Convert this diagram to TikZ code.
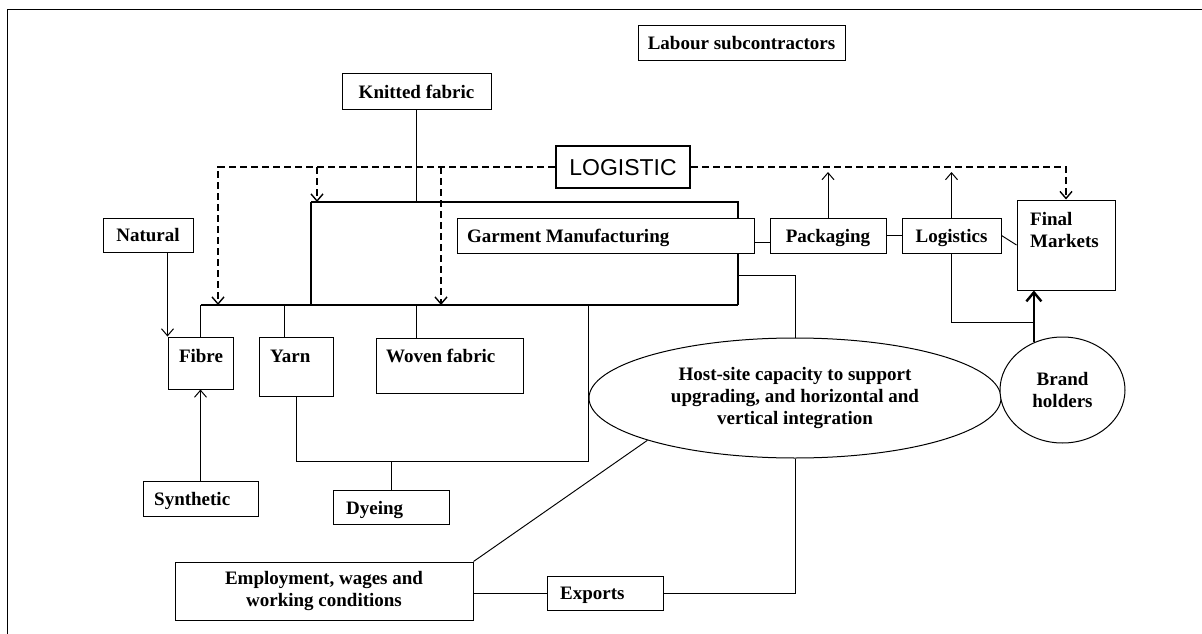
\documentclass[tikz,border=0pt]{standalone}
\usepackage{fontspec}
\setmainfont{Liberation Serif}
\newfontfamily\lsans{Liberation Sans}
\usetikzlibrary{arrows.meta,shapes.geometric}
\begin{document}
\begin{tikzpicture}[x=1pt,y=-1pt,
  box/.style={draw, line width=1pt, fill=white, inner sep=0pt},
  logstyle/.style={draw, line width=2.8pt, fill=white, inner sep=0pt},
  txt/.style={font=\fontsize{19}{22}\selectfont\bfseries, inner sep=0pt},
  t1/.style={txt, text height=13pt, text depth=0pt},
  lbl/.style={t1, anchor=west},
  conn/.style={line width=0.95pt},
  arr/.style={conn, -{Straight Barb[length=7pt,width=12pt,line width=1pt]}},
  dasharr/.style={line width=1.4pt, dash pattern=on 7pt off 4pt, -{Straight Barb[length=7pt,width=12pt,line width=1.4pt]}},
]
\useasboundingbox (0,0) rectangle (1202,634);
% frame
\draw[line width=1pt] (7,634) -- (7,10) -- (1202,10);

% key coordinates
\coordinate (bTL) at (311,202);
\coordinate (bTR) at (738,202);
\coordinate (bBR) at (738,305);
\coordinate (bBL) at (200.5,305);
\coordinate (bBM) at (311,305);
\coordinate (br) at (738,275);
\coordinate (loopR) at (588,461);
\coordinate (dA) at (317,167);
\coordinate (dAe) at (317,202);
\coordinate (dB) at (441,167);
\coordinate (dBe) at (441,305);
\coordinate (dL) at (218,305);

% nodes
\node[box,t1,minimum width=207pt,minimum height=35pt] (labour) at (741.5,43.5) {Labour subcontractors};
\node[box,t1,minimum width=149pt,minimum height=35pt] (knit) at (416.5,91.5) {Knitted fabric};

% bracket
\draw[line width=1.4pt] (knit.south) -- (knit.south |- bTL);
\draw[line width=1.4pt] (bTL) -- (bTR) -- (bBR);
\draw[line width=1.4pt] (bBL) -- (bBR);
\draw[line width=2.1pt] (bTL) -- (bBM);
\draw[conn] (br) -| (795,338);

\node[box,minimum width=297pt,minimum height=35pt] (gm) at (605.5,235.5) {};
\node[lbl] (gmT) at (467,235.5) {Garment Manufacturing};
\node[box,t1,minimum width=116pt,minimum height=35pt] (pack) at (828,235.5) {Packaging};
\node[box,t1,minimum width=99pt,minimum height=35pt] (logi) at (951.5,235.5) {Logistics};
\node[box,minimum width=98pt,minimum height=90pt] (fm) at (1066,245) {};
\node[txt,align=left,anchor=north west] (fmT) at (1030,212) {Final\\Markets};

\node[logstyle,minimum width=134pt,minimum height=42pt,
      font=\lsans\fontsize{23}{26}\selectfont,text height=16.5pt,text depth=0pt] (logbox) at (623,167) {LOGISTIC};

\node[box,t1,minimum width=90pt,minimum height=34pt] (natural) at (148,235) {Natural};
\node[box,minimum width=65pt,minimum height=52pt] (fibre) at (200.5,363) {};
\node[t1] (fibreT) at (201,356) {Fibre};
\node[box,minimum width=74pt,minimum height=59pt] (yarn) at (296,366.5) {};
\node[lbl] (yarnT) at (270,356) {Yarn};
\node[box,minimum width=147pt,minimum height=55pt] (woven) at (449.5,365.5) {};
\node[lbl] (wovenT) at (386,356) {Woven fabric};
\node[box,minimum width=115pt,minimum height=35pt] (synth) at (200.5,498.5) {};
\node[lbl] (synthT) at (154,499) {Synthetic};
\node[box,minimum width=116pt,minimum height=34pt] (dye) at (391,507) {};
\node[lbl] (dyeT) at (346,508) {Dyeing};
\node[box,txt,align=center,minimum width=298pt,minimum height=58pt] (emp) at (324,591) {Employment, wages and\\working conditions};
\node[box,minimum width=116pt,minimum height=34pt] (exports) at (605,593) {};
\node[lbl] (exportsT) at (560,593) {Exports};
\node[box,txt,ellipse,align=center,minimum width=412pt,minimum height=120pt] (host) at (795,398)
  {Host-site capacity to support\\upgrading, and horizontal and\\vertical integration};
\node[box,txt,ellipse,align=center,minimum width=125pt,minimum height=106pt] (brand) at (1062.5,390) {Brand\\holders};

% dashed logistic links
\draw[dasharr] (logbox.west) -| (dL);
\draw[dasharr] (dA) -- (dAe);
\draw[dasharr] (dB) -- (dBe);
\draw[dasharr] (logbox.east) -| (fm.north);

% connectors
\draw[arr] (natural.south -| fibre.west) -- (fibre.north west);
\draw[arr] (synth.north) -- (fibre.south);
\draw[conn] (fibre.north) -- (bBL);
\draw[conn] ([xshift=-12pt]yarn.north) -- ([xshift=-12pt]yarn.north |- bBL);
\draw[conn] ([xshift=-33.5pt]woven.north) -- ([xshift=-33.5pt]woven.north |- bBL);
\draw[conn] (yarn.south) |- (loopR) -- (loopR |- bBL);
\draw[conn] (dye.north) -- (dye.north |- loopR);
\draw[conn] ([yshift=-6.5pt]gm.east) -- ([yshift=-6.5pt]pack.west);
\draw[conn] (pack.east) -- (logi.west);
\draw[conn] (logi.east) -- (fm.west);
\draw[arr] (pack.north) -- (pack.north |- 0,172);
\draw[arr] (logi.north) -- (logi.north |- 0,172);
\draw[conn] (logi.south) |- (brand.121 |- 0,322);
\draw[line width=2.4pt,-{Straight Barb[length=9pt,width=15pt,line width=2.4pt]}] (brand.121) -- (brand.121 |- fm.south);
\draw[conn] (exports.west -| emp.east) -- (exports.west);
\draw[conn] (exports.east) -| (host.south);
\draw[conn] (emp.north east) -- (host.196);
\end{tikzpicture}
\end{document}
